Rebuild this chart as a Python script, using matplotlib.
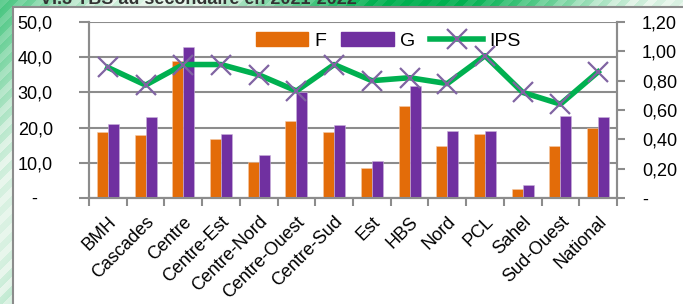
import numpy as np
import matplotlib
matplotlib.use('Agg')
import matplotlib.pyplot as plt
from matplotlib.patches import Rectangle
from matplotlib.lines import Line2D
from matplotlib.patches import Patch

plt.rcParams['font.family'] = ['Liberation Sans', 'DejaVu Sans']

regions = ['BMH', 'Cascades', 'Centre', 'Centre-Est', 'Centre-Nord', 'Centre-Ouest',
           'Centre-Sud', 'Est', 'HBS', 'Nord', 'PCL', 'Sahel', 'Sud-Ouest', 'National']
f_vals = [18.8, 17.9, 38.9, 16.8, 10.2, 22.0, 18.8, 8.4, 26.1, 14.9, 18.3, 2.6, 14.7, 19.9]
g_vals = [21.1, 23.0, 42.9, 18.3, 12.2, 30.0, 20.7, 10.5, 31.7, 19.0, 18.9, 3.8, 23.2, 23.0]
ips_vals = [0.89, 0.77, 0.91, 0.91, 0.84, 0.73, 0.91, 0.80, 0.82, 0.78, 0.97, 0.72, 0.64, 0.86]

left_ticks = [0, 10, 20, 30, 40, 50]
left_labels = ['-   ', '10,0', '20,0', '30,0', '40,0', '50,0']
right_ticks = [0, 0.2, 0.4, 0.6, 0.8, 1.0, 1.2]
right_labels = ['-', '0,20', '0,40', '0,60', '0,80', '1,00', '1,20']

c_f = '#E36C09'
c_g = '#7030A0'
c_ips = '#00B050'
c_x = '#8064A2'
c_grid = '#8C8C8C'

fig = plt.figure(figsize=(6.83, 3.04), dpi=100)

# green striped background behind the white panel
bg = fig.add_axes([0, 0, 1, 1], zorder=-10)
yy, xx = np.mgrid[0:304, 0:683]
wave = 0.5 + 0.5 * np.cos((xx - 420) / 683 * 2 * np.pi * 1.3 + (yy / 304) * 2.5)
stripes = 0.12 * ((((xx + yy) // 9) % 2) - 0.5)
t = np.clip(wave + stripes, 0, 1)
green = np.array([0, 176, 80]) / 255
light = np.array([232, 246, 236]) / 255
img = light * (1 - t[..., None]) + green * t[..., None]
bg.imshow(img, aspect='auto', extent=[0, 683, 304, 0])
bg.set_xlim(0, 683)
bg.set_ylim(304, 0)
bg.axis('off')
bg.text(40, -1, 'VI.3 TBS au secondaire en 2021-2022', fontsize=13, fontweight='bold',
        color='#333333', va='center', ha='left')
bg.add_patch(Rectangle((13, 7), 700, 320, facecolor='white', edgecolor='#8C8C8C', linewidth=1.5))

ax = fig.add_axes([89 / 683, 1 - 198 / 304, 528 / 683, 176 / 304])
ax.set_facecolor('none')
x = np.arange(len(regions))
w = 0.29
ax.bar(x - w / 2, f_vals, w, color=c_f, edgecolor='#F5C9A8', linewidth=0.4, zorder=3)
ax.bar(x + w / 2, g_vals, w, color=c_g, edgecolor='#C9B3DA', linewidth=0.4, zorder=3)
ax.set_xlim(-0.5, len(regions) - 0.5)
ax.set_ylim(0, 50)
ax.set_yticks(left_ticks)
ax.set_yticklabels(left_labels)
ax.yaxis.grid(True, color=c_grid, linewidth=1.5, zorder=0)
ax.set_axisbelow(True)
ax.tick_params(axis='y', length=7, width=1.5, color=c_grid, pad=19, labelsize=13)
ax.set_xticks(x)
ax.set_xticklabels(regions, rotation=45, ha='right', va='top', rotation_mode='anchor', fontsize=13)
ax.set_xticks(np.arange(-0.5, len(regions)), minor=True)
ax.tick_params(axis='x', which='major', length=0, pad=11)
ax.tick_params(axis='x', which='minor', length=6, width=1.5, color=c_grid)
for s in ['left', 'right', 'bottom']:
    ax.spines[s].set_color(c_grid)
    ax.spines[s].set_linewidth(1.5)
ax.spines['top'].set_visible(False)

ax2 = ax.twinx()
ax2.plot(x, ips_vals, color=c_ips, linewidth=4, marker='x', markersize=15,
         markeredgecolor=c_x, markeredgewidth=1.6, zorder=5)
ax2.set_ylim(0, 1.2)
ax2.set_yticks(right_ticks)
ax2.set_yticklabels(right_labels)
ax2.tick_params(axis='y', length=6, width=1.5, color=c_grid, pad=12, labelsize=13)
for s in ['left', 'right', 'bottom']:
    ax2.spines[s].set_color(c_grid)
    ax2.spines[s].set_linewidth(1.5)
ax2.spines['top'].set_visible(False)

handles = [Patch(color=c_f, label='F'), Patch(color=c_g, label='G'),
           Line2D([0], [0], color=c_ips, linewidth=4, marker='x', markersize=15,
                  markeredgecolor=c_x, markeredgewidth=1.6, label='IPS')]
ax2.legend(handles=handles, loc='upper center', bbox_to_anchor=(0.566, 1.04), ncol=3,
           frameon=False, fontsize=14, handlelength=2.7, handleheight=0.7,
           columnspacing=0.8, handletextpad=0.3)

fig.savefig('out.png', dpi=100)
